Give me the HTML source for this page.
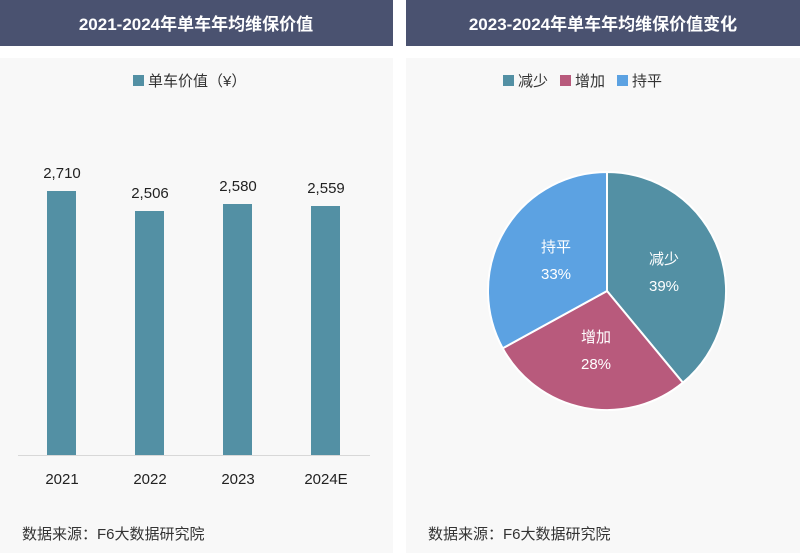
<!DOCTYPE html>
<html><head><meta charset="utf-8"><style>
body{margin:0;width:800px;height:553px;background:#fff;overflow:hidden;font-family:"Liberation Sans","Noto Sans CJK SC",sans-serif;}
</style></head><body>
<svg width="800" height="553" xmlns="http://www.w3.org/2000/svg" style="position:absolute;left:0;top:0" font-family="Liberation Sans, Noto Sans CJK SC, sans-serif">
<rect x="0" y="58" width="393" height="495" fill="#f8f8f8"/>
<rect x="406" y="58" width="394" height="495" fill="#f8f8f8"/>
<rect x="0" y="0" width="393" height="46" fill="#4a5270"/>
<rect x="406" y="0" width="394" height="46" fill="#4a5270"/>
<text x="196" y="30" text-anchor="middle" fill="#fff" font-size="17" font-weight="bold">2021-2024年单车年均维保价值</text>
<text x="603" y="30" text-anchor="middle" fill="#fff" font-size="17" font-weight="bold">2023-2024年单车年均维保价值变化</text>
<rect x="133" y="75" width="11" height="11" fill="#5390a4"/>
<text x="148" y="86" font-size="15" fill="#333">单车价值（¥）</text>
<g fill="#5390a4">
<rect x="47" y="191" width="29" height="264"/>
<rect x="135" y="211" width="29" height="244"/>
<rect x="223" y="204" width="29" height="251"/>
<rect x="311" y="206" width="29" height="249"/>
</g>
<line x1="18" y1="455.5" x2="370" y2="455.5" stroke="#d8d8d8"/>
<g font-size="15" fill="#222" text-anchor="middle">
<text x="62" y="178">2,710</text><text x="150" y="198">2,506</text><text x="238" y="191">2,580</text><text x="326" y="193">2,559</text>
<text x="62" y="484">2021</text><text x="150" y="484">2022</text><text x="238" y="484">2023</text><text x="326" y="484">2024E</text>
</g>
<text x="22" y="539" font-size="15" fill="#333">数据来源：F6大数据研究院</text>
<text x="428" y="539" font-size="15" fill="#333">数据来源：F6大数据研究院</text>
<rect x="503" y="75" width="11" height="11" fill="#5390a4"/><text x="518" y="86" font-size="15" fill="#333">减少</text>
<rect x="560" y="75" width="11" height="11" fill="#b85a7c"/><text x="575" y="86" font-size="15" fill="#333">增加</text>
<rect x="617" y="75" width="11" height="11" fill="#5ca2e2"/><text x="632" y="86" font-size="15" fill="#333">持平</text>
<g stroke="#fff" stroke-width="2">
<path d="M607,291 L607,172 A119,119 0 0 1 682.9,382.7 Z" fill="#5390a4"/>
<path d="M607,291 L682.9,382.7 A119,119 0 0 1 502.7,348.3 Z" fill="#b85a7c"/>
<path d="M607,291 L502.7,348.3 A119,119 0 0 1 607,172 Z" fill="#5ca2e2"/>
</g>
<g font-size="15" fill="#fff" text-anchor="middle">
<text x="664" y="264">减少</text><text x="664" y="291">39%</text>
<text x="596" y="342">增加</text><text x="596" y="369">28%</text>
<text x="556" y="252">持平</text><text x="556" y="279">33%</text>
</g>
</svg>
</body></html>
